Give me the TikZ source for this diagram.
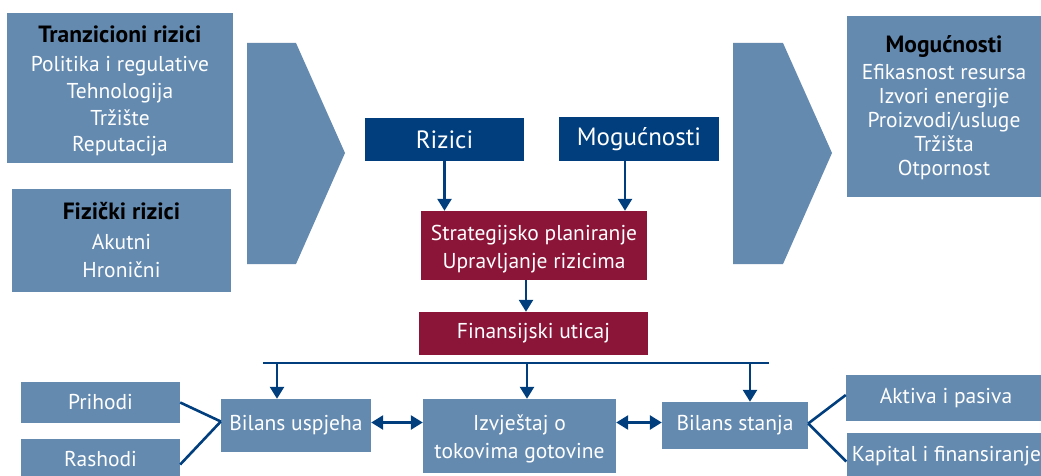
\documentclass[tikz,border=0pt]{standalone}
\usepackage{fontspec}
\setmainfont{PT Sans}
\usetikzlibrary{arrows.meta,calc}
\definecolor{steel}{RGB}{100,138,176}
\definecolor{navy}{RGB}{0,62,126}
\definecolor{wine}{RGB}{139,21,56}
\tikzset{
  lbox/.style={fill=steel,draw=none,inner sep=0pt,text=white,align=center},
  dbox/.style={fill=navy,draw=none,inner sep=0pt,text=white,align=center,font=\fontsize{25}{28}\selectfont},
  rbox/.style={fill=wine,draw=none,inner sep=0pt,text=white,align=center,font=\fontsize{21.5}{28}\selectfont},
  txt/.style={inner sep=0pt,text=white,align=center},
  conn/.style={draw=navy,line width=2.6pt},
  arr/.style={conn,-{Triangle[width=14pt,length=12pt]}},
  darr/.style={conn,{Triangle[width=14pt,length=12pt]}-{Triangle[width=14pt,length=12pt]}}
}
\newcommand{\hdtext}[1]{{\fontsize{23.5}{26}\selectfont\bfseries\color{black}#1}}
\begin{document}
\begin{tikzpicture}[x=1pt,y=-1pt]
\useasboundingbox (0,0) rectangle (1041,476);
% left column
\node[lbox,minimum width=226pt,minimum height=150pt] (tr) at (120,88) {};
\node[txt,font=\fontsize{21.5}{26.7}\selectfont] (trt) at ([yshift=-3pt]tr.center)
  {\hdtext{Tranzicioni rizici}\\[3pt]Politika i regulative\\Tehnologija\\Tržište\\Reputacija};
\node[lbox,minimum width=219pt,minimum height=103pt,font=\fontsize{21.5}{28}\selectfont] (fz) at (121.5,240.5)
  {\hdtext{Fizički rizici}\\[2pt]Akutni\\Hronični};
% chevrons
\fill[steel] (247,43) -- (296,43) -- (345,153) -- (296,264) -- (247,264) -- cycle;
\fill[steel] (733,43) -- (783,43) -- (832,153) -- (783,264) -- (733,264) -- cycle;
% right column
\node[lbox,minimum width=194pt,minimum height=181pt] (mog) at (944,106.5) {};
\node[txt,font=\fontsize{21.5}{24}\selectfont] (mogt) at ([yshift=-1.5pt]mog.center)
  {\hdtext{Mogućnosti}\\[3pt]Efikasnost resursa\\Izvori energije\\Proizvodi/usluge\\Tržišta\\Otpornost};
% centre
\node[dbox,minimum width=159pt,minimum height=43pt] (riz) at (444.5,139.5) {Rizici};
\node[dbox,minimum width=160pt,minimum height=44pt] (mogd) at (639,139) {Mogućnosti};
\node[rbox,minimum width=226pt,minimum height=69pt] (strat) at (534,245.5) {};
\node[txt,font=\fontsize{21.5}{28}\selectfont] (stratt) at ([yshift=-3.5pt]strat.center) {Strategijsko planiranje\\Upravljanje rizicima};
\node[rbox,minimum width=229pt,minimum height=43pt] (fin) at (533.5,333.5) {Finansijski uticaj};
\draw[arr] (riz.south) -- (riz.south |- strat.north);
\draw[arr] ([xshift=-14pt]mogd.south) -- ([xshift=-14pt]mogd.south |- strat.north);
\draw[arr] ([xshift=-8pt]strat.south) -- ([xshift=-8pt]strat.south |- fin.north);
% bottom row
\tikzset{sbox/.style={lbox,font=\fontsize{21.5}{28}\selectfont}}
\node[sbox,minimum width=159pt,minimum height=41pt] (pri) at (100.5,402.5) {Prihodi};
\node[sbox,minimum width=159pt,minimum height=41pt] (ras) at (100.5,459.5) {Rashodi};
\node[sbox,minimum width=150pt,minimum height=53pt] (bu) at (296,425.5) {Bilans uspjeha};
\node[sbox,minimum width=193pt,minimum height=74pt] (izv) at (519.5,436) {};
\node[txt,font=\fontsize{21.5}{28}\selectfont] (izvt) at ([yshift=-2.5pt]izv.center) {Izvještaj o\\tokovima gotovine};
\node[sbox,minimum width=146pt,minimum height=47pt] (bs) at (735,425.5) {Bilans stanja};
\node[sbox,minimum width=200pt,minimum height=46pt] (akt) at (946,398) {Aktiva i pasiva};
\node[sbox,minimum width=200pt,minimum height=47pt] (kap) at (946.5,456.5) {Kapital i finansiranje};
% bus
\coordinate (busL) at (263,363);
\coordinate (busR) at (769,363);
\draw[conn] (busL) -- (busR);
\draw[arr] (busL -| 277,0) -- (bu.north -| 277,0);
\draw[arr] ([xshift=7.5pt]izv.north |- busL) -- ([xshift=7.5pt]izv.north);
\draw[arr] ([xshift=15pt]bs.north |- busL) -- ([xshift=15pt]bs.north);
% links
\coordinate (bujoin) at ([yshift=4pt]bu.west);
\draw[conn] (pri.east) -- (bujoin);
\draw[conn] ([yshift=-5pt]ras.east) -- (bujoin);
\draw[darr] ([yshift=3pt]bu.east) -- ([yshift=3pt]bu.east -| izv.west);
\draw[darr] ([yshift=3pt]bs.west -| izv.east) -- ([yshift=3pt]bs.west);
\coordinate (bsjoin) at ([yshift=2pt]bs.east);
\draw[conn] (bsjoin) -- ([yshift=3pt]akt.west);
\draw[conn] (bsjoin) -- ([yshift=-5pt]kap.west);
\end{tikzpicture}
\end{document}
